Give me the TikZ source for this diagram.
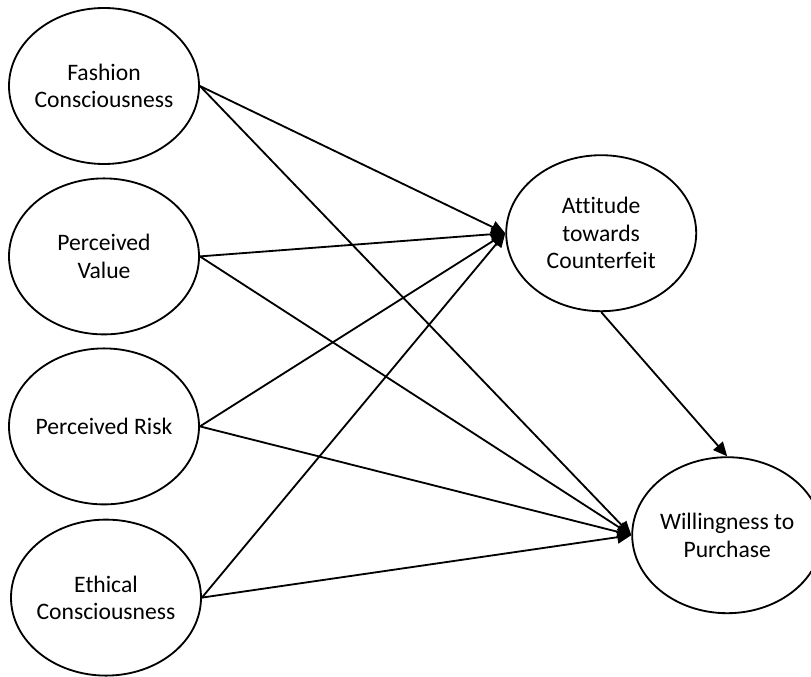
\documentclass[tikz,border=0pt]{standalone}
\usepackage{fontspec}
\setmainfont{Carlito}[Ligatures=NoCommon]
\usepackage{tikz}
\pgfdeclarelayer{nodelayer}
\pgfdeclarelayer{edgelayer}
\pgfsetlayers{edgelayer,nodelayer,main}
\usetikzlibrary{arrows.meta,shapes.geometric}

\begin{document}
\begin{tikzpicture}[
	construct/.style={ellipse, draw, fill=white, line width=1.3pt, minimum width=4.75cm, minimum height=3.9cm, inner sep=-10pt, align=center, font=\fontsize{16.8pt}{19.5pt}\selectfont},
	path/.style={-{Triangle[length=10pt,width=9pt]}, line width=1.3pt}
]
	\useasboundingbox (0, 0) rectangle (20.275, -16.925);
	\begin{pgfonlayer}{nodelayer}
		\node [construct] (0) at (2.6, -2.15) {Fashion\\Consciousness};
		\node [construct] (1) at (2.6, -6.41) {Perceived\\Value};
		\node [construct] (2) at (2.6, -10.66) {Perceived Risk};
		\node [construct] (3) at (2.65, -14.94) {Ethical\\Consciousness};
		\node [construct] (4) at (15.03, -5.83) {Attitude\\towards\\Counterfeit};
		\node [construct] (5) at (18.18, -13.38) {Willingness to\\Purchase};
	\end{pgfonlayer}
	\begin{pgfonlayer}{edgelayer}
		\draw [path] (0.east) to (4.west);
		\draw [path] (0.east) to (5.west);
		\draw [path] (1.east) to (4.west);
		\draw [path] (1.east) to (5.west);
		\draw [path] (2.east) to (4.west);
		\draw [path] (2.east) to (5.west);
		\draw [path] (3.east) to (4.west);
		\draw [path] (3.east) to (5.west);
		\draw [path] (4.south) to (5.north);
	\end{pgfonlayer}
\end{tikzpicture}
\end{document}
